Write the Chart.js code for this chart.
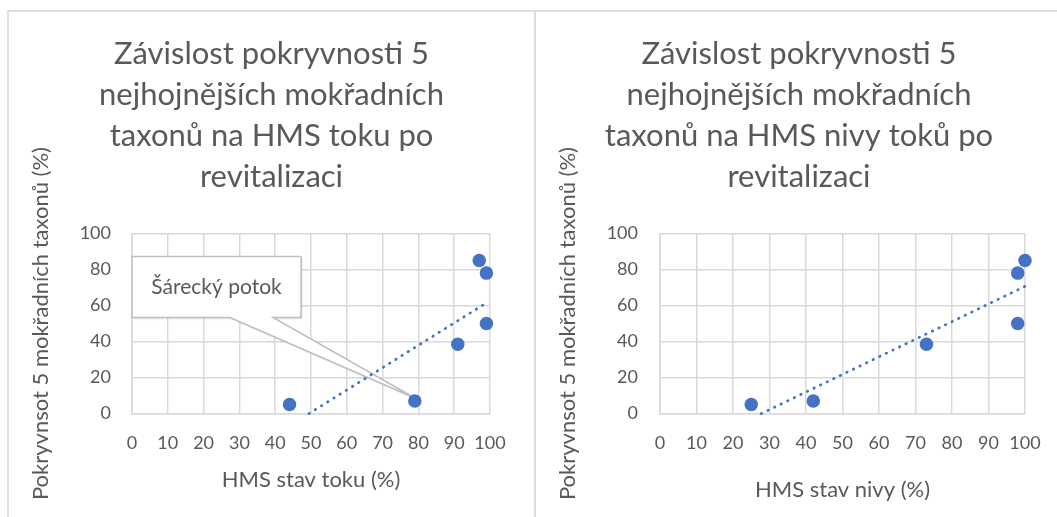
<!DOCTYPE html>
<html lang="cs">
<head>
<meta charset="utf-8">
<title>Pokryvnost mokřadních taxonů a HMS</title>
<script src="https://cdn.jsdelivr.net/npm/chart.js@4/dist/chart.umd.min.js"></script>
<style>
  html, body { margin: 0; padding: 0; background: #fff; overflow: hidden; width: 1057px; height: 517px; }
  .ramecek { position: absolute; top: 10px; height: 560px; border: 2px solid #dedede; box-sizing: border-box; }
  canvas { position: absolute; top: 11px; }
</style>
</head>
<body>
<div class="ramecek" style="left:7px;width:529px;"></div>
<div class="ramecek" style="left:534px;width:531px;"></div>
<canvas id="grafTok" width="527" height="506" style="left:8px"></canvas>
<canvas id="grafNiva" width="528" height="506" style="left:535px"></canvas>

<script>
// hodnoty z lokalit po revitalizaci
const hmsToku = [44, 79, 91, 97, 99, 99];
const hmsNivy = [25, 42, 73, 100, 98, 98];
const pokryvnost = [5, 7, 38.5, 85, 78, 50];

const xTicks = [0, 10, 20, 30, 40, 50, 60, 70, 80, 90, 100];
const yTicks = [0, 20, 40, 60, 80, 100];

const nadpisTok = ['Závislost pokryvnosti 5', 'nejhojnějších mokřadních', 'taxonů na HMS toku po', 'revitalizaci'];
const nadpisNiva = ['Závislost pokryvnosti 5', 'nejhojnějších mokřadních', 'taxonů na HMS nivy toků po', 'revitalizaci'];
const osaY = 'Pokryvnsot 5 mokřadních taxonů (%)';

const BARVA = '#4472C4';
const SEDA_TEXT = '#595959';
const MRIZKA = '#d9d9d9';
const PISMO = 'Lato, "Open Sans", sans-serif';

Chart.defaults.font.family = PISMO;
Chart.defaults.color = SEDA_TEXT;

// lineární trend metodou nejmenších čtverců, useknutý na y >= 0 (jako v Excelu)
function trend(xs, ys) {
  const n = xs.length;
  const mx = xs.reduce((a, b) => a + b, 0) / n;
  const my = ys.reduce((a, b) => a + b, 0) / n;
  let sxy = 0, sxx = 0;
  xs.forEach((x, i) => {
    sxy += (x - mx) * (ys[i] - my);
    sxx += (x - mx) * (x - mx);
  });
  const k = sxy / sxx;
  const q = my - k * mx;
  const x0 = Math.max(Math.min(...xs), -q / k);
  const x1 = Math.max(...xs);
  return [{ x: x0, y: k * x0 + q }, { x: x1, y: k * x1 + q }];
}

// víceřádkový nadpis vycentrovaný na celé plátno
const nadpis = {
  id: 'nadpis',
  afterDraw(chart, args, opts) {
    if (!opts.lines) return;
    const { ctx, width } = chart;
    ctx.save();
    ctx.fillStyle = SEDA_TEXT;
    ctx.font = opts.size + 'px ' + PISMO;
    ctx.textAlign = 'center';
    ctx.textBaseline = 'alphabetic';
    opts.lines.forEach((t, i) => ctx.fillText(t, width / 2, opts.baseline + i * opts.lineHeight));
    ctx.restore();
  }
};

// popisek bodu v bublině s ukazatelem
const bublina = {
  id: 'bublina',
  beforeDatasetsDraw(chart, args, opts) {
    if (!opts.text) return;
    const bod = chart.getDatasetMeta(opts.dataset).data[opts.index];
    const { ctx, chartArea } = chart;
    const l = chartArea.left, t = chartArea.top + 23, w = 169, h = 61;
    const b = t + h;
    ctx.save();
    ctx.beginPath();
    ctx.moveTo(l, t);
    ctx.lineTo(l + w, t);
    ctx.lineTo(l + w, b);
    ctx.lineTo(l + 141, b);
    ctx.lineTo(bod.x, bod.y - 3);
    ctx.lineTo(l + 98, b);
    ctx.lineTo(l, b);
    ctx.closePath();
    ctx.shadowColor = 'rgba(0,0,0,0.18)';
    ctx.shadowOffsetX = 1;
    ctx.shadowOffsetY = 1;
    ctx.shadowBlur = 2;
    ctx.fillStyle = '#fff';
    ctx.fill();
    ctx.shadowColor = 'transparent';
    ctx.strokeStyle = '#bfbfbf';
    ctx.lineWidth = 1.5;
    ctx.stroke();
    ctx.fillStyle = SEDA_TEXT;
    ctx.font = '21px ' + PISMO;
    ctx.textAlign = 'center';
    ctx.textBaseline = 'middle';
    ctx.fillText(opts.text, l + w / 2, t + h / 2);
    ctx.restore();
  }
};

function vytvorGraf(id, nadpisRadky, xs, osaX, roz, popisek) {
  const canvas = document.getElementById(id);
  return new Chart(canvas, {
    type: 'scatter',
    data: {
      datasets: [
        {
          data: xs.map((x, i) => ({ x: x, y: pokryvnost[i] })),
          backgroundColor: BARVA,
          borderColor: BARVA,
          pointRadius: 6.75,
          pointBorderWidth: 0,
          clip: false,
          order: 0
        },
        {
          data: trend(xs, pokryvnost),
          showLine: true,
          borderColor: BARVA,
          borderWidth: 2.75,
          borderDash: [0.5, 6.8],
          borderCapStyle: 'round',
          pointRadius: 0,
          clip: false,
          order: 1
        }
      ]
    },
    options: {
      responsive: false,
      animation: false,
      devicePixelRatio: 1,
      layout: { padding: { left: 0, right: canvas.width - roz.vpravo, top: 222.5, bottom: 0 } },
      plugins: {
        legend: { display: false },
        tooltip: { enabled: false },
        nadpis: { lines: nadpisRadky, size: 31, baseline: 52.5, lineHeight: 41.2 },
        bublina: popisek || {}
      },
      scales: {
        x: {
          type: 'linear',
          min: 0,
          max: 100,
          afterBuildTicks: s => { s.ticks = xTicks.map(v => ({ value: v })); },
          afterFit: s => { s.height = 103.4; },
          grid: { color: MRIZKA, lineWidth: 1.5, drawTicks: false },
          border: { color: MRIZKA, width: 1.5 },
          ticks: { color: SEDA_TEXT, font: { size: 18 }, padding: 18.6, maxRotation: 0, autoSkip: false },
          title: { display: true, text: osaX, color: SEDA_TEXT, font: { size: 22 }, padding: { top: 0, bottom: roz.xTitul } }
        },
        y: {
          type: 'linear',
          min: 0,
          max: 100,
          afterBuildTicks: s => { s.ticks = yTicks.map(v => ({ value: v })); },
          afterFit: s => { s.width = roz.vlevo; },
          grid: { color: MRIZKA, lineWidth: 1.5, drawTicks: false },
          border: { color: MRIZKA, width: 1.5 },
          ticks: { color: SEDA_TEXT, font: { size: 18 }, padding: roz.yTicky },
          title: { display: true, text: osaY, color: SEDA_TEXT, font: { size: 22 }, padding: { top: 19.5, bottom: 0 } }
        }
      }
    },
    plugins: [nadpis, bublina]
  });
}

vytvorGraf('grafTok', nadpisTok, hmsToku, 'HMS stav toku (%)',
  { vlevo: 124, vpravo: 482, xTitul: 24, yTicky: 21 },
  { text: 'Šárecký potok', dataset: 0, index: 1 });

vytvorGraf('grafNiva', nadpisNiva, hmsNivy, 'HMS stav nivy (%)',
  { vlevo: 125, vpravo: 490, xTitul: 14, yTicky: 22 });
</script>
</body>
</html>
